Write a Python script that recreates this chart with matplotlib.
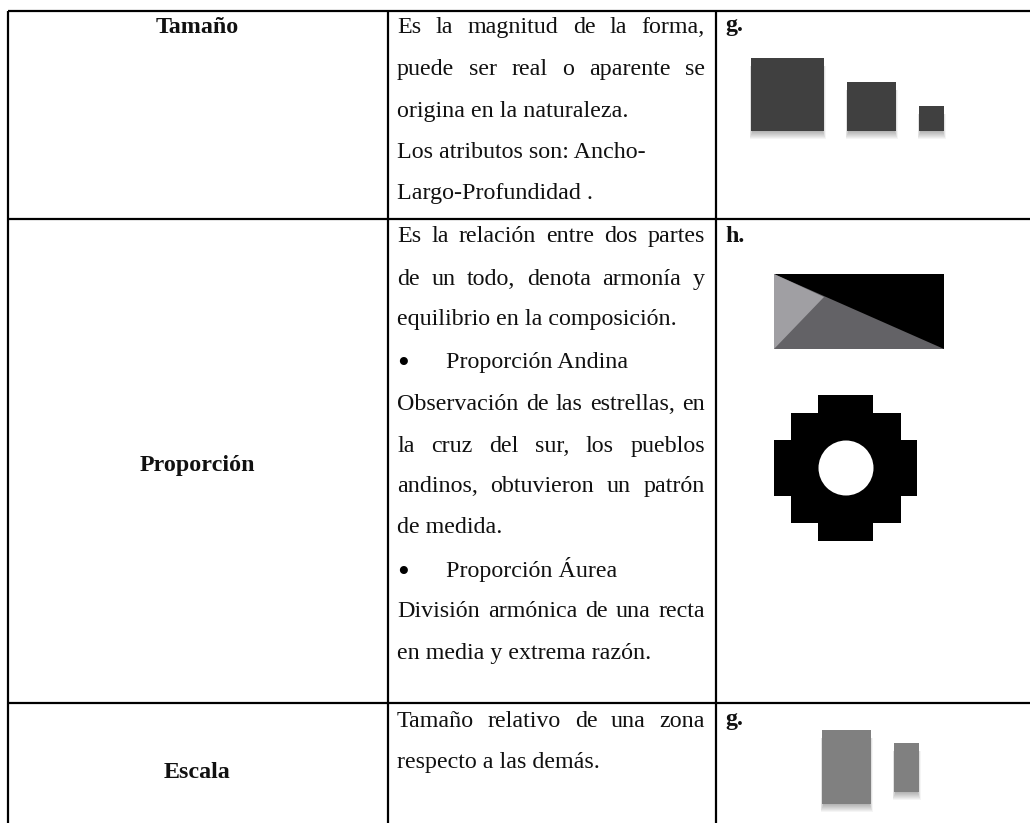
from matplotlib import pyplot as plt
from matplotlib.patches import Rectangle, Polygon, Circle

plt.rcParams['font.family'] = ['Liberation Serif', 'DejaVu Serif']

# table grid, pixels of the page
grid_rows = [11, 219, 703]
grid_cols = [8, 388, 716]

# first column
row_names = ["Tamaño", "Proporción", "Escala"]
row_name_y = [33, 471, 778]

# middle column: (text, justified)
cell_tamano = [("Es la magnitud de la forma,", True),
               ("puede ser real o aparente se", True),
               ("origina en la naturaleza.", False),
               ("Los atributos son: Ancho-", False),
               ("Largo-Profundidad .", False)]
cell_tamano_y = [33, 75, 117, 158, 199]

cell_proporcion = [("Es la relación entre dos partes", True),
                   ("de un todo, denota armonía y", True),
                   ("equilibrio en la composición.", False),
                   ("Proporción Andina", None),
                   ("Observación de las estrellas, en", True),
                   ("la cruz del sur, los pueblos", True),
                   ("andinos, obtuvieron un patrón", True),
                   ("de medida.", False),
                   ("Proporción Áurea", None),
                   ("División armónica de una recta", True),
                   ("en media y extrema razón.", False)]
cell_proporcion_y = [242, 285, 325, 368, 410, 452, 492, 533, 577, 617, 659]

cell_escala = [("Tamaño relativo de una zona", True),
               ("respecto a las demás.", False)]
cell_escala_y = [727, 768]

# last column
letters = ["g.", "h.", "g."]
letter_y = [31, 242, 725]

# dark squares and grey bars: x0, y0, x1, y1
squares = [(751, 58, 824, 131), (847, 82, 896, 131), (919, 106, 944, 131)]
bars = [(822, 730, 871, 804), (894, 743, 919, 792)]

# golden rectangle
gold_box = (774, 274, 944, 349)
gold_mid = [(774, 274), (944, 349), (774, 349)]
gold_light = [(774, 274), (824, 297), (774, 349)]

# andean cross outline
cross_xs = [774, 791, 818, 873, 901, 917]
cross_ys = [395, 413, 440, 496, 523, 541]
hole = (846, 468, 27.5)

fig = plt.figure(figsize=(10.3, 8.23), dpi=100)
ax = fig.add_axes([0, 0, 1, 1])
ax.set_xlim(0, 1030)
ax.set_ylim(823, 0)
ax.axis("off")

renderer = fig.canvas.get_renderer()
font_px = 24
font_pt = font_px * 0.72
ink = "#111111"
text_left = 397
text_right = 705


def word_width(s):
    t = ax.text(0, 0, s, fontsize=font_pt)
    w = t.get_window_extent(renderer).width
    t.remove()
    return w


#Draw one line, spreading the words when it is justified
def draw_line(s, y, justified):
    if justified is None:  # bullet line
        ax.text(text_left, y + 5, "•", fontsize=font_pt * 1.4, color="black", va="baseline")
        ax.text(446, y, s, fontsize=font_pt, color=ink, va="baseline")
    elif justified:
        words = s.split(" ")
        widths = [word_width(w) for w in words]
        gap = (text_right - text_left - sum(widths)) / (len(words) - 1)
        x = text_left
        for w, wd in zip(words, widths):
            ax.text(x, y, w, fontsize=font_pt, color=ink, va="baseline")
            x += wd + gap
    else:
        ax.text(text_left, y, s, fontsize=font_pt, color=ink, va="baseline")


#Soft shadow under a box, then the box
def shadow_box(box, color):
    x0, y0, x1, y1 = box
    for d in range(8):
        inset = d * 0.4 - 1.5
        ax.add_patch(Rectangle((x0 + inset, y0 + 8), x1 - x0 - 2 * inset, y1 - y0 - 8 + 8 - d,
                               fc="black", ec="none", alpha=0.04))
    ax.add_patch(Rectangle((x0, y0), x1 - x0, y1 - y0, fc=color, ec="none"))


for y in grid_rows:
    ax.plot([grid_cols[0], 1030], [y, y], color="black", lw=1.6, solid_capstyle="butt")
for x in grid_cols:
    ax.plot([x, x], [grid_rows[0], 823], color="black", lw=1.6, solid_capstyle="butt")

for name, y in zip(row_names, row_name_y):
    ax.text(197.5, y, name, fontsize=font_pt, fontweight="bold", color=ink,
            ha="center", va="baseline")

for cell, ys in [(cell_tamano, cell_tamano_y), (cell_proporcion, cell_proporcion_y),
                 (cell_escala, cell_escala_y)]:
    for (s, justified), y in zip(cell, ys):
        draw_line(s, y, justified)

for s, y in zip(letters, letter_y):
    ax.text(725, y, s, fontsize=font_pt, fontweight="bold", color=ink, va="baseline")

for box in squares:
    shadow_box(box, "#404040")
for box in bars:
    shadow_box(box, "#808080")

x0, y0, x1, y1 = gold_box
ax.add_patch(Rectangle((x0, y0), x1 - x0, y1 - y0, fc="black", ec="none"))
ax.add_patch(Polygon(gold_mid, fc="#636266", ec="none"))
ax.add_patch(Polygon(gold_light, fc="#a09fa3", ec="none"))

xs, ys = cross_xs, cross_ys
outline = [(xs[2], ys[0]), (xs[3], ys[0]), (xs[3], ys[1]), (xs[4], ys[1]), (xs[4], ys[2]),
           (xs[5], ys[2]), (xs[5], ys[3]), (xs[4], ys[3]), (xs[4], ys[4]), (xs[3], ys[4]),
           (xs[3], ys[5]), (xs[2], ys[5]), (xs[2], ys[4]), (xs[1], ys[4]), (xs[1], ys[3]),
           (xs[0], ys[3]), (xs[0], ys[2]), (xs[1], ys[2]), (xs[1], ys[1]), (xs[2], ys[1])]
ax.add_patch(Polygon(outline, fc="black", ec="none"))
ax.add_patch(Circle(hole[:2], hole[2], fc="white", ec="none"))

fig.savefig("out.png", dpi=100)
